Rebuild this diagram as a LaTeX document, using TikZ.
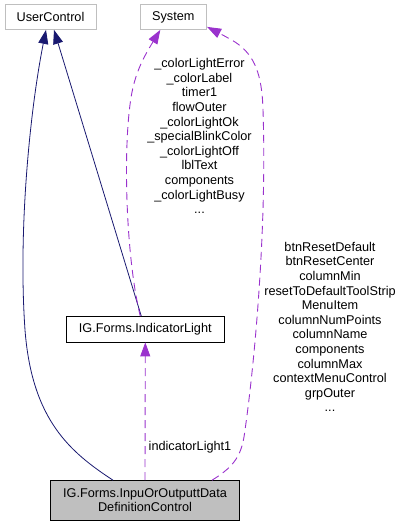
\documentclass[tikz,border=0pt]{standalone}
\usepackage{fontspec}
\setmainfont{Liberation Sans}
\usetikzlibrary{arrows.meta,calc}
\definecolor{navyc}{HTML}{191970}
\definecolor{purplec}{HTML}{9A32CD}
\definecolor{grayb}{HTML}{BFBFBF}
\begin{document}
\begin{tikzpicture}[x=1pt,y=-1pt,
  every node/.style={font=\fontsize{12.7}{14.6}\selectfont},
  ext/.style={draw=grayb,line width=0.9pt,fill=white,inner sep=0pt,align=center},
  cls/.style={draw=black,line width=0.9pt,fill=white,inner sep=0pt,align=center},
  focus/.style={draw=black,line width=0.9pt,fill=grayb,inner sep=0pt,align=center},
  inh/.style={draw=navyc,line width=0.8pt,-{Triangle[length=14pt,width=10pt]}},
  use/.style={draw=purplec,line width=0.9pt,dash pattern=on 8pt off 5pt,-{Triangle[length=14pt,width=10pt]}},
  lbl/.style={inner sep=0pt,align=center}]
\useasboundingbox (0,0) rectangle (403,527);
\node[ext,minimum width=91pt,minimum height=24.5pt] (uc) at (50.5,17.2) {UserControl};
\node[ext,minimum width=66.7pt,minimum height=24.5pt] (sys) at (173.3,17.2) {System};
\node[cls,minimum width=157.3pt,minimum height=25.3pt] (ind) at (145.3,329.3) {IG.Forms.IndicatorLight};
\node[focus,minimum width=188.6pt,minimum height=39.3pt] (main) at (145,500.3) {IG.Forms.InpuOrOutputtData\\DefinitionControl};
% inheritance
\draw[inh] ([xshift=-32pt]main.north) .. controls (70,452) and (32,420) .. (25,330)
  .. controls (18,230) and (30,110) .. ([xshift=-4.5pt]uc.south);
\draw[inh] ([xshift=-4pt]ind.north) -- ([xshift=3.5pt]uc.south);
% usage
\draw[use] ([xshift=-5pt]ind.north) .. controls (124,250) and (122,120) .. (135,80)
  .. controls (140,63) and (148,50) .. ([xshift=-13pt]sys.south);
\draw[use] ([xshift=67pt]main.north) .. controls (235,466) and (242,455) .. (245,430)
  .. controls (255,360) and (267,225) .. (263,110)
  .. controls (262,75) and (255,55) .. (235,42)
  .. controls (225,36) and (215,31) .. ([yshift=3pt]sys.south east);
\draw[use] (main.north) -- (ind.south);
% labels
\node[lbl] (l1) at (199.5,136) {\_colorLightError\\\_colorLabel\\timer1\\flowOuter\\\_colorLightOk\\\_specialBlinkColor\\\_colorLightOff\\lblText\\components\\\_colorLightBusy\\...};
\node[lbl] (l2) at (330,327) {btnResetDefault\\btnResetCenter\\columnMin\\resetToDefaultToolStrip\\MenuItem\\columnNumPoints\\columnName\\components\\columnMax\\contextMenuControl\\grpOuter\\...};
\node[lbl] (l3) at (190,447) {indicatorLight1};
\end{tikzpicture}
\end{document}
